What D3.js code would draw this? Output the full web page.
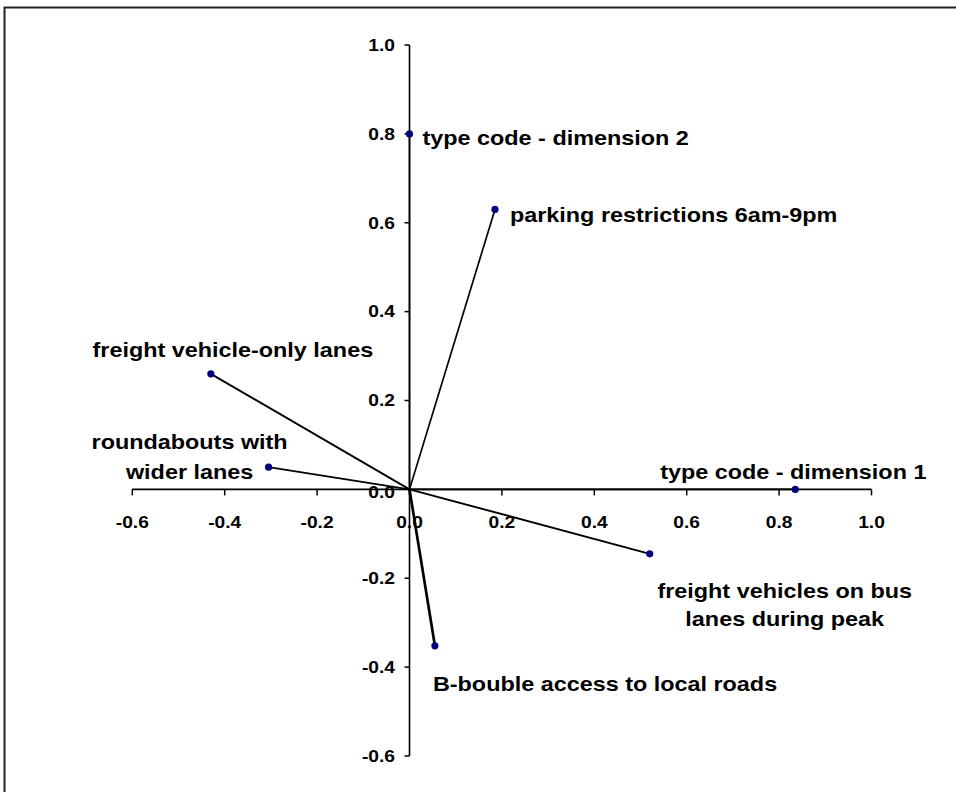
<!DOCTYPE html>
<html>
<head>
<meta charset="utf-8">
<script src="https://cdn.jsdelivr.net/npm/d3@7"></script>
<style>
  html, body { margin: 0; padding: 0; background: #fff; }
  svg { display: block; }
  text { font-family: "Liberation Sans", Arial, sans-serif; font-weight: bold; fill: #000; }
</style>
</head>
<body>
<svg id="chart" width="956" height="792"></svg>
<script>
// ---- data ----
const labels = [
  ["type code - dimension 2"],
  ["parking restrictions 6am-9pm"],
  ["freight vehicle-only lanes"],
  ["roundabouts with", "wider lanes"],
  ["type code - dimension 1"],
  ["freight vehicles on bus", "lanes during peak"],
  ["B-bouble access to local roads"]
];
const dim1Values = [0.00, 0.185, -0.43, -0.305, 0.835, 0.52, 0.055];
const dim2Values = [0.80, 0.63, 0.26, 0.05, 0.00, -0.145, -0.352];
const xTicks = [-0.6, -0.4, -0.2, 0.0, 0.2, 0.4, 0.6, 0.8, 1.0];
const yTicks = [-0.6, -0.4, -0.2, 0.0, 0.2, 0.4, 0.6, 0.8, 1.0];

// ---- label layout (pixel offsets from each point, styling only) ----
const labelLayout = [
  { anchor: "start",  dx: 13,   dy: [11] },
  { anchor: "start",  dx: 15,   dy: [13] },
  { anchor: "middle", dx: 22,   dy: [-17] },
  { anchor: "middle", dx: -79,  dy: [-18, 12] },
  { anchor: "middle", dx: -2,   dy: [-10] },
  { anchor: "middle", dx: 135,  dy: [44, 72] },
  { anchor: "start",  dx: -2,   dy: [45] }
];
const lineWidths = [1.6, 1.7, 1.9, 1.7, 1.6, 1.9, 2.7];

const SX = 1.2;          // horizontal stretch of the glyphs
const labelFont = 19.5;
const tickFont = 16;

const svg = d3.select("#chart");

// border
svg.append("rect")
  .attr("x", 4.5).attr("y", 7.5)
  .attr("width", 1000).attr("height", 1000)
  .attr("fill", "none").attr("stroke", "#222").attr("stroke-width", 2);

const x = d3.scaleLinear().domain([-0.6, 1.0]).range([132.3, 871.5]);
const y = d3.scaleLinear().domain([-0.6, 1.0]).range([756, 45]);

const fmt = d => d.toFixed(1);

// x axis
const gx = svg.append("g")
  .attr("transform", `translate(0,${y(0)})`)
  .call(d3.axisBottom(x).tickValues(xTicks).tickFormat(fmt).tickSize(6).tickSizeOuter(0).offset(0));
gx.select(".domain").attr("stroke", "#000").attr("stroke-width", 1.6);
gx.selectAll(".tick line").attr("stroke", "#000").attr("stroke-width", 1.5);
gx.selectAll(".tick text")
  .attr("y", null).attr("dy", null)
  .attr("transform", `translate(0,39) scale(${SX},1)`)
  .attr("text-anchor", "middle")
  .style("font-size", tickFont + "px")
  .attr("fill", "#000");

// y axis
const gy = svg.append("g")
  .attr("transform", `translate(${x(0)},0)`)
  .call(d3.axisLeft(y).tickValues(yTicks).tickFormat(fmt).tickSize(5).tickSizeOuter(0).offset(0));
gy.select(".domain").attr("stroke", "#000").attr("stroke-width", 1.6);
gy.selectAll(".tick line").attr("stroke", "#000").attr("stroke-width", 1.5);
gy.selectAll(".tick text")
  .attr("x", null).attr("dy", null)
  .attr("transform", d => `translate(-14.5,${d === 0 ? 8.5 : 5.8}) scale(${SX},1)`)
  .attr("text-anchor", "end")
  .style("font-size", tickFont + "px")
  .attr("fill", "#000");
gx.attr("font-size", null).attr("font-family", null);
gy.attr("font-size", null).attr("font-family", null);

// vectors
const pts = labels.map((l, i) => ({ label: l, vx: dim1Values[i], vy: dim2Values[i], i }));

svg.append("g").selectAll("line.vec").data(pts).join("line")
  .attr("class", "vec")
  .attr("x1", x(0)).attr("y1", y(0))
  .attr("x2", d => x(d.vx)).attr("y2", d => y(d.vy))
  .attr("stroke", "#000")
  .attr("stroke-width", d => lineWidths[d.i]);

svg.append("g").selectAll("circle").data(pts).join("circle")
  .attr("cx", d => x(d.vx)).attr("cy", d => y(d.vy))
  .attr("r", 3.6)
  .attr("fill", "#000080");

// labels
const lg = svg.append("g");
pts.forEach(d => {
  const lay = labelLayout[d.i];
  d.label.forEach((line, k) => {
    lg.append("text")
      .attr("transform", `translate(${x(d.vx) + lay.dx},${y(d.vy) + lay.dy[k]}) scale(${SX},1)`)
      .attr("text-anchor", lay.anchor)
      .style("font-size", labelFont + "px")
      .text(line);
  });
});
</script>
</body>
</html>
